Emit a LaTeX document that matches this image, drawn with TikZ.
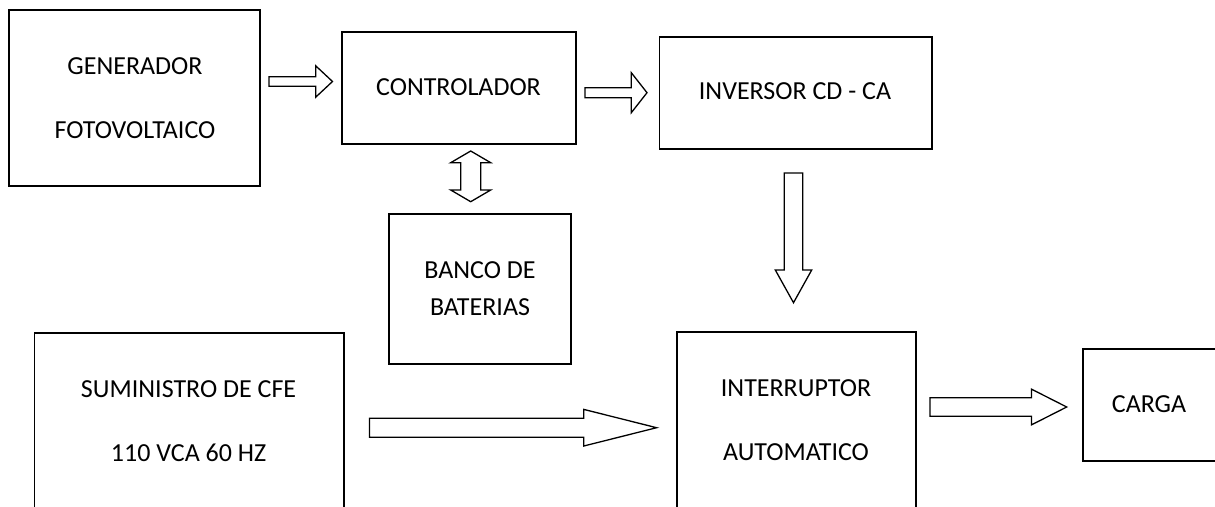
\documentclass[tikz,border=0pt]{standalone}
\usepackage{fontspec}
\setmainfont{Carlito}
\newcommand{\harr}[6]{% x1, x2, y, shaft half, head half, head length
  \draw[arr] (#1,#3-#4) -- (#2-#6,#3-#4) -- (#2-#6,#3-#5) -- (#2,#3) -- (#2-#6,#3+#5) -- (#2-#6,#3+#4) -- (#1,#3+#4) -- cycle;}
\newcommand{\varr}[6]{% y1, y2, x, shaft half, head half, head length
  \draw[arr] (#3-#4,#1) -- (#3-#4,#2-#6) -- (#3-#5,#2-#6) -- (#3,#2) -- (#3+#5,#2-#6) -- (#3+#4,#2-#6) -- (#3+#4,#1) -- cycle;}
\newcommand{\dvarr}[7]{% y1, y2, x, shaft half, head half, head len top, head len bottom
  \draw[arr] (#3,#1) -- (#3+#5,#1+#6) -- (#3+#4,#1+#6) -- (#3+#4,#2-#7) -- (#3+#5,#2-#7) -- (#3,#2) -- (#3-#5,#2-#7) -- (#3-#4,#2-#7) -- (#3-#4,#1+#6) -- (#3-#5,#1+#6) -- cycle;}
\begin{document}
\begin{tikzpicture}[x=1pt,y=-1pt,
  box/.style={draw, line width=1.7pt, inner sep=0pt, outer sep=0pt, anchor=north west},
  lbl/.style={font=\fontsize{26}{30}\selectfont, inner sep=0pt},
  arr/.style={draw, line width=1.3pt, fill=white, line join=miter}]
\useasboundingbox (0,0) rectangle (1215,506);
\clip (0,0) rectangle (1215,506);
\fill[white] (0,0) rectangle (1215,506);
% boxes
\node[box, minimum width=250.4pt, minimum height=175.7pt] (gen) at (9.3,10) {};
\node[box, minimum width=234pt, minimum height=112pt] (ctrl) at (341.8,32.3) {};
\node[box, minimum width=272.6pt, minimum height=112pt] (inv) at (659.6,37.3) {};
\node[box, minimum width=181.8pt, minimum height=149.7pt] (banco) at (389.3,214.3) {};
\node[box, minimum width=309.4pt, minimum height=200pt] (sum) at (34.5,333.3) {};
\node[box, minimum width=238.8pt, minimum height=200pt] (int) at (676.9,332.3) {};
\node[box, minimum width=140pt, minimum height=111.7pt] (carga) at (1083,349.3) {};
% labels
\node[lbl] (genA) at (135,66) {GENERADOR};
\node[lbl] (genB) at (135,130) {FOTOVOLTAICO};
\node[lbl] (ctrlT) at (458.5,86.7) {CONTROLADOR};
\node[lbl] (invT) at (795,91) {INVERSOR CD - CA};
\node[lbl] (bancoA) at (480,270) {BANCO DE};
\node[lbl] (bancoB) at (480,306.7) {BATERIAS};
\node[lbl] (sumA) at (188.6,389.3) {SUMINISTRO DE CFE};
\node[lbl] (sumB) at (188.6,452.7) {110 VCA 60 HZ};
\node[lbl] (intA) at (796,388.3) {INTERRUPTOR};
\node[lbl] (intB) at (796,451.7) {AUTOMATICO};
\node[lbl] (cargaT) at (1149,404.3) {CARGA};
% block arrows
\harr{269}{332.5}{81.5}{4.8}{15.7}{16.8}
\harr{585}{647}{92.7}{5}{20}{15.7}
\varr{173}{302.7}{793.5}{9.2}{18.2}{32.7}
\dvarr{151}{201.7}{470.7}{10}{20}{11.7}{11.7}
\harr{369.5}{656.6}{427.7}{9.5}{18.3}{72.8}
\harr{930}{1066.7}{407}{9.2}{17.9}{35.3}
\end{tikzpicture}
\end{document}
